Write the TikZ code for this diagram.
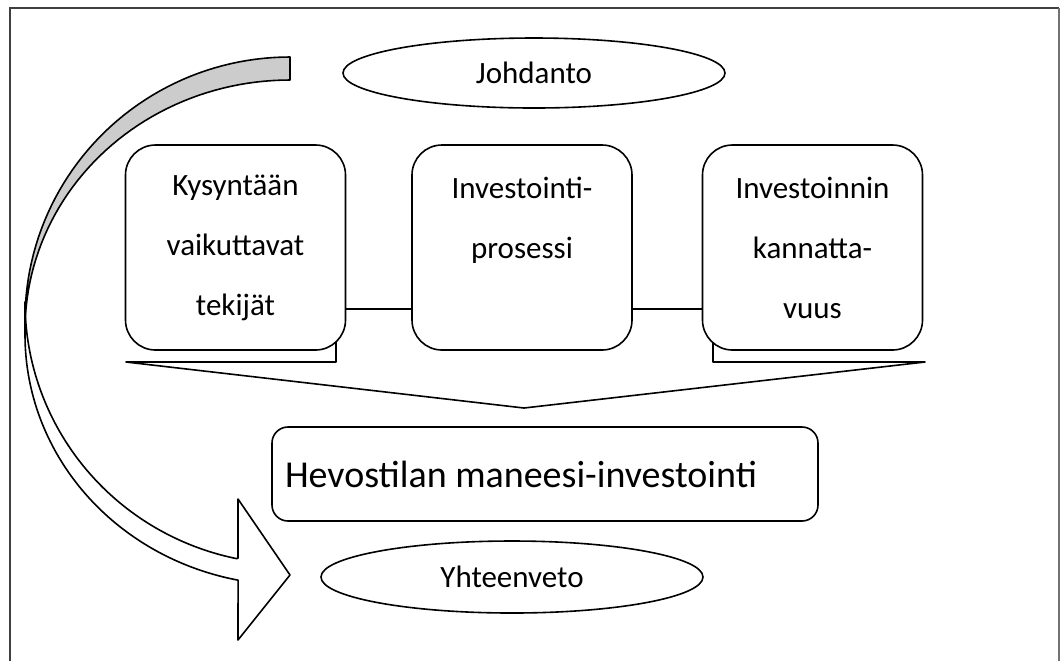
\documentclass[tikz,border=0pt]{standalone}
\usepackage{fontspec}
\setmainfont{Carlito}
\usetikzlibrary{shapes.geometric}
\tikzset{
  topic/.style={draw,fill=white,rounded corners=15pt,line width=0.8pt,
    minimum width=110pt,minimum height=102.5pt,inner sep=0pt,align=center,
    font=\fontsize{15.5}{30}\selectfont},
  oval/.style={draw,ellipse,fill=white,line width=0.8pt,inner sep=0pt,
    minimum width=191pt,minimum height=35pt,font=\fontsize{15.5}{19}\selectfont},
  casebox/.style={draw,fill=white,rounded corners=8pt,line width=0.8pt,
    minimum width=273pt,minimum height=47pt,inner sep=0pt,
    font=\fontsize{19}{23}\selectfont},
  band/.style={line width=0.8pt,line join=round}
}

\begin{document}
\begin{tikzpicture}[x=0.5pt,y=-0.5pt]
  \useasboundingbox (0,0) rectangle (1060,661);
  \draw[black!75,line width=1pt] (10,661) -- (10,8) -- (1059,8);
  \draw[black!55,line width=0.6pt] (1059,8) -- (1059,661);

  % curved arrow: back band, then front band with head
  \filldraw[band,fill=black!20]
    plot[domain=90:180,samples=50] ({290+265*cos(\x)},{320-263*sin(\x)})
    -- plot[domain=180:90,samples=50] ({290+265*cos(\x)},{330-250*sin(\x)}) -- cycle;
  \filldraw[band,fill=white] (25,302)
    -- plot[domain=180:258.7,samples=60] ({290+265*cos(\x)},{335-250*sin(\x)})
    -- (238,640) -- (290,575) -- (238,499) -- (238,558)
    -- plot[domain=258.4:180,samples=60] ({290+265*cos(\x)},{302-262*sin(\x)}) -- cycle;

  % funnel under the three topics
  \coordinate (f1) at (126,362);
  \coordinate (f2) at (336,362);
  \coordinate (f3) at (336,309);
  \coordinate (f4) at (713,309);
  \coordinate (f5) at (713,362);
  \coordinate (f6) at (925,362);
  \coordinate (tip) at (524,408);
  \draw[band] (f1) -- (f2) -- (f3) -- (f4) -- (f5) -- (f6) -- (tip) -- cycle;

  \node[topic] (demand) at (235.5,247.5) {Kysyntään\\vaikuttavat\\tekijät};
  \node[topic] (process) at (522,247.5) {Investointi-\\prosessi\\\mbox{}};
  \node[topic] (profit) at (812.5,247.5) {Investoinnin\\kannatta-\\vuus};

  \node[oval] (intro) at (534,73) {Johdanto};
  \node[casebox] (case) at (545,474) {\hspace*{-24pt}Hevostilan maneesi-investointi};
  \node[oval,minimum height=36pt] (summary) at (512,577) {Yhteenveto};
\end{tikzpicture}
\end{document}
